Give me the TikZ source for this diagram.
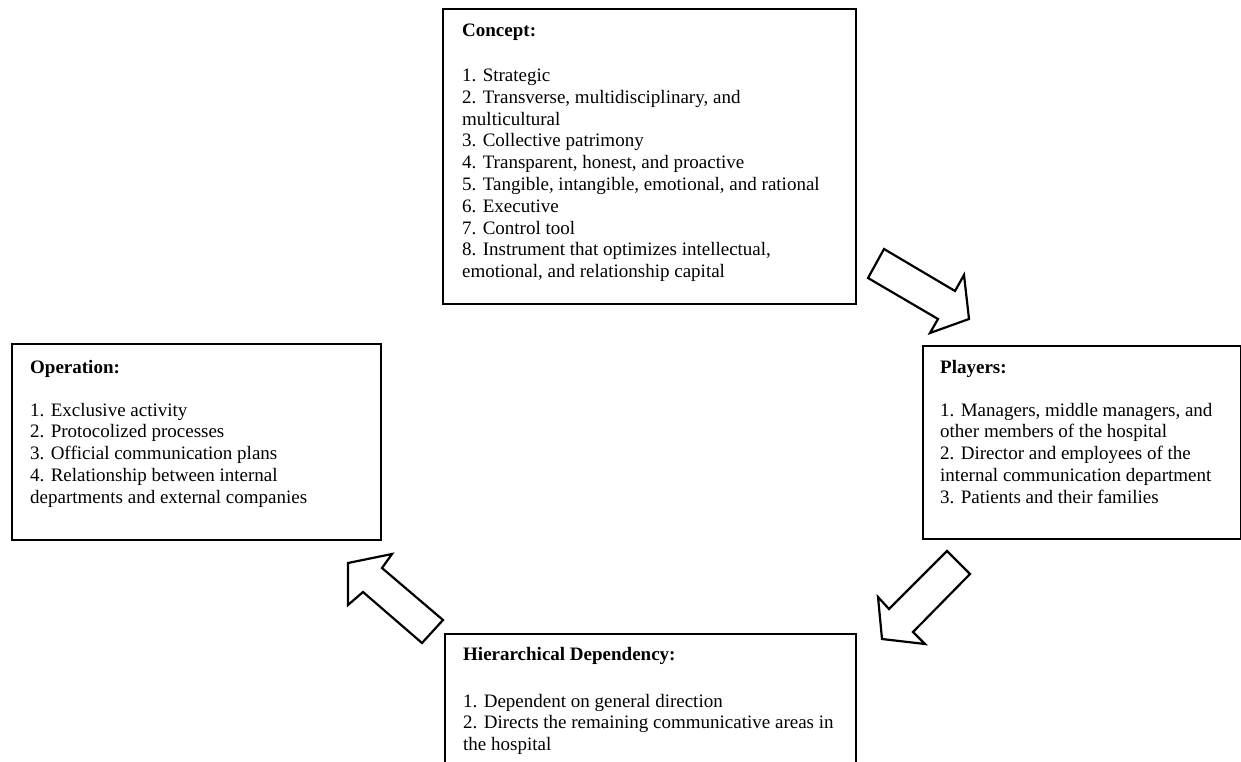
\documentclass[tikz,border=0pt]{standalone}
\usepackage{fontspec}
\setmainfont{Liberation Serif}
\begin{document}
\begin{tikzpicture}[x=1pt,y=-1pt,
 box/.style={draw, line width=2.2pt, anchor=north west, inner sep=0pt},
 txt/.style={anchor=north west, inner sep=0pt, align=left, font=\fontsize{19}{21.8}\selectfont},
 blockarrow/.style={draw, line width=2.2pt, fill=white, line join=miter}]
\clip (0,0) rectangle (1241,762);
\fill[white] (0,0) rectangle (1241,762);
% boxes
\node[box, minimum width=413pt, minimum height=295pt] (concept) at (442,8) {};
\node[box, minimum width=318pt, minimum height=193pt] (players) at (922,345) {};
\node[box, minimum width=369pt, minimum height=196pt] (operation) at (11,343) {};
\node[box, minimum width=411pt, minimum height=160pt] (hier) at (444,633) {};
% texts
\node[txt] (conceptText) at (462,24) {\textbf{Concept:}\\[23pt]
1. Strategic\\
2. Transverse, multidisciplinary, and\\
multicultural\\
3. Collective patrimony\\
4. Transparent, honest, and proactive\\
5. Tangible, intangible, emotional, and rational\\
6. Executive\\
7. Control tool\\
8. Instrument that optimizes intellectual,\\
emotional, and relationship capital};
\node[txt] (playersText) at (940,360) {\textbf{Players:}\\[21pt]
1. Managers, middle managers, and\\
other members of the hospital\\
2. Director and employees of the\\
internal communication department\\
3. Patients and their families};
\node[txt] (operationText) at (30,360) {\textbf{Operation:}\\[21pt]
1. Exclusive activity\\
2. Protocolized processes\\
3. Official communication plans\\
4. Relationship between internal\\
departments and external companies};
\node[txt] (hierText) at (463,647) {\textbf{Hierarchical Dependency:}\\[25pt]
1. Dependent on general direction\\
2. Directs the remaining communicative areas in\\
the hospital};
% block arrows
\draw[blockarrow] (884,249) -- (955,291) -- (964,275) -- (969,319) -- (930,333) -- (938,319) -- (868,278) -- cycle;
\draw[blockarrow] (947,551) -- (970,574) -- (913,632) -- (925,644) -- (882,639) -- (878,597) -- (889,609) -- cycle;
\draw[blockarrow] (443,620) -- (422,643) -- (363,592) -- (348,605) -- (348,563) -- (392,554) -- (382,568) -- cycle;
\end{tikzpicture}
\end{document}
